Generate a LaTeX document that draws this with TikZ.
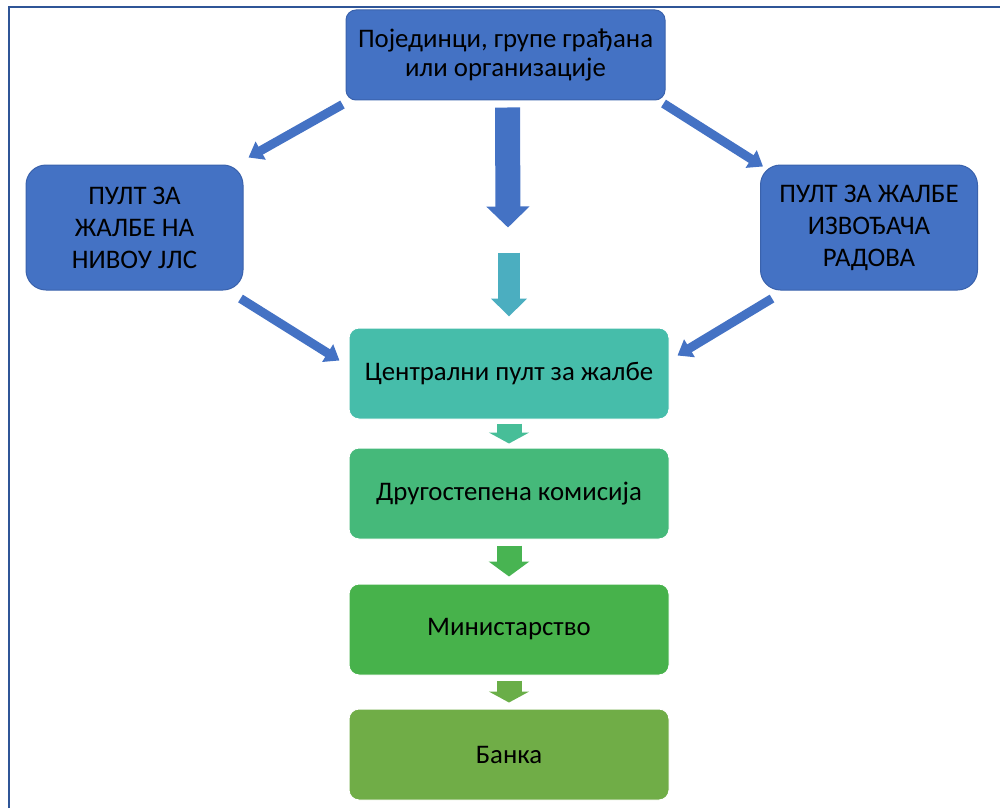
\documentclass[tikz,border=0pt]{standalone}
\usepackage{fontspec}
\setmainfont{Carlito}
\usetikzlibrary{arrows.meta}
\definecolor{boxblue}{HTML}{4472C4}
\definecolor{edgeblue}{HTML}{3A62AC}
\definecolor{frameblue}{HTML}{2F5597}
\definecolor{arrowteal}{HTML}{4BAEC0}
\definecolor{boxteal}{HTML}{46BDAA}
\definecolor{arrowmint}{HTML}{47BE98}
\definecolor{boxmint}{HTML}{45B97A}
\definecolor{arrowgreen}{HTML}{48B452}
\definecolor{boxgreen}{HTML}{47B24B}
\definecolor{arrowolive}{HTML}{6AAE48}
\definecolor{boxolive}{HTML}{70AD47}

\begin{document}
\begin{tikzpicture}[x=0.5pt,y=-0.5pt]
\tikzstyle{every node}+=[inner sep=0pt, align=center, text=black]
\tikzstyle{blue box}=[draw=edgeblue, fill=boxblue, line width=0.5pt]
\tikzstyle{flow box}=[draw=white, line width=0.5pt, rounded corners=5pt, minimum width=160pt, minimum height=45.5pt, font=\fontsize{13.4}{16}\selectfont]
\tikzstyle{side arrow}=[draw=boxblue, line width=4.5pt, -{Triangle[width=10pt,length=7pt]}]
\tikzstyle{down arrow}=[line width=12.5pt, -{Triangle[width=20pt,length=5.5pt]}]
\useasboundingbox (0,0) rectangle (1000,808);
\draw [frameblue, line width=1.2pt] (9,808) -- (9,7) -- (1000,7);
\node [blue box, rounded corners=5pt, minimum width=159.5pt, minimum height=45pt, font=\fontsize{13.4}{14.8}\selectfont] (citizens) at (505.5,55) {Појединци, групе грађана\\или организације};
\node [blue box, rounded corners=10pt, minimum width=108.5pt, minimum height=62.5pt, font=\fontsize{13.4}{16}\selectfont] (lgu) at (134.5,227.5) {ПУЛТ ЗА\\ЖАЛБЕ НА\\НИВОУ ЈЛС};
\node [blue box, rounded corners=10pt, minimum width=108.5pt, minimum height=62.5pt, font=\fontsize{13.4}{16}\selectfont] (contractor) at (869,227.5) {ПУЛТ ЗА ЖАЛБЕ\\ИЗВОЂАЧА\\РАДОВА};
\node [flow box, fill=boxteal] (central) at (509,373.5) {Централни пулт за жалбе};
\node [flow box, fill=boxmint] (appeal) at (509,493.5) {Другостепена комисија};
\node [flow box, fill=boxgreen] (ministry) at (509,629.5) {Министарство};
\node [flow box, fill=boxolive] (bank) at (509,754.5) {Банка};
\draw [side arrow] ([shift={(-3,4)}]citizens.south west) -- ([shift={(5,-7)}]lgu.north east);
\draw [side arrow] ([shift={(-2,3)}]citizens.south east) -- ([shift={(3,2)}]contractor.north west);
\draw [side arrow] ([shift={(-3,8)}]lgu.south east) -- ([shift={(-9,-13)}]central.west);
\draw [side arrow] ([shift={(12,8)}]contractor.south west) -- ([shift={(8,-18)}]central.east);
\draw [down arrow, boxblue, -{Triangle[width=21pt,length=10.5pt]}] ([shift={(2,7)}]citizens.south) -- ([shift={(-1,-100)}]central.north);
\draw [down arrow, arrowteal, line width=11pt, -{Triangle[width=17.5pt,length=9pt]}] ([shift={(0,-75)}]central.north) -- ([shift={(0,-11)}]central.north);
\draw [down arrow, arrowmint] ([shift={(0,4)}]central.south) -- ([shift={(0,-4)}]appeal.north);
\draw [down arrow, arrowgreen, -{Triangle[width=20pt,length=7.5pt]}] ([shift={(0,6)}]appeal.south) -- ([shift={(0,-7)}]ministry.north);
\draw [down arrow, arrowolive] ([shift={(0,5)}]ministry.south) -- ([shift={(0,-6)}]bank.north);
\end{tikzpicture}
\end{document}
